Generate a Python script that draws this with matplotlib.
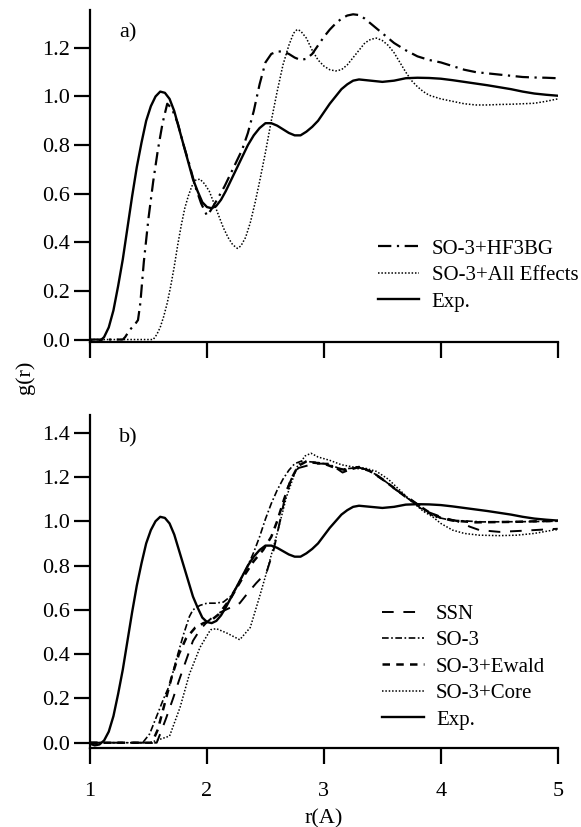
import matplotlib
matplotlib.use("Agg")
import matplotlib.pyplot as plt

plt.rcParams['font.family'] = ['Liberation Serif', 'DejaVu Serif']

# ---- data ----
exp_r = [1.0, 1.04, 1.08, 1.12, 1.16, 1.2, 1.24, 1.28, 1.32, 1.36, 1.40, 1.44, 1.48, 1.52, 1.56, 1.60,
         1.64, 1.68, 1.72, 1.76, 1.80, 1.84, 1.88, 1.92, 1.96, 2.0, 2.04, 2.08, 2.12, 2.16, 2.2, 2.25,
         2.3, 2.35, 2.4, 2.45, 2.5, 2.55, 2.6, 2.65, 2.7, 2.75, 2.8, 2.85, 2.9, 2.95, 3.0, 3.05, 3.1,
         3.15, 3.2, 3.25, 3.3, 3.4, 3.5, 3.6, 3.7, 3.8, 3.9, 4.0, 4.1, 4.2, 4.3, 4.4, 4.5, 4.6, 4.7,
         4.8, 4.9, 5.0]
exp_g = [-0.005, -0.012, -0.008, 0.01, 0.05, 0.12, 0.22, 0.33, 0.46, 0.59, 0.71, 0.81, 0.90, 0.96, 1.0,
         1.02, 1.015, 0.99, 0.94, 0.87, 0.80, 0.73, 0.66, 0.61, 0.565, 0.545, 0.54, 0.55, 0.575, 0.61,
         0.65, 0.70, 0.75, 0.80, 0.84, 0.87, 0.89, 0.89, 0.88, 0.865, 0.85, 0.84, 0.84, 0.855, 0.875,
         0.90, 0.935, 0.97, 1.0, 1.03, 1.05, 1.065, 1.07, 1.065, 1.06, 1.065, 1.075, 1.077, 1.076,
         1.073, 1.067, 1.06, 1.053, 1.046, 1.038, 1.03, 1.02, 1.012, 1.007, 1.003]

hf3bg_r = [1.0, 1.28, 1.30, 1.34, 1.38, 1.41, 1.43, 1.46, 1.50, 1.54, 1.58, 1.62, 1.66, 1.70, 1.75,
           1.80, 1.85, 1.90, 1.95, 2.0, 2.03, 2.08, 2.15, 2.2, 2.25, 2.3, 2.35, 2.4, 2.45, 2.5, 2.55,
           2.6, 2.65, 2.7, 2.75, 2.8, 2.85, 2.9, 2.95, 3.0, 3.05, 3.1, 3.15, 3.2, 3.25, 3.3, 3.35, 3.4,
           3.45, 3.5, 3.55, 3.6, 3.7, 3.8, 3.9, 4.0, 4.1, 4.2, 4.3, 4.4, 4.5, 4.6, 4.7, 4.8, 4.9, 5.0]
hf3bg_g = [0.0, 0.0, 0.01, 0.04, 0.06, 0.08, 0.15, 0.32, 0.50, 0.65, 0.78, 0.89, 0.97, 0.95, 0.89,
           0.80, 0.72, 0.63, 0.56, 0.51, 0.53, 0.57, 0.63, 0.68, 0.73, 0.78, 0.85, 0.94, 1.05, 1.14,
           1.175, 1.185, 1.185, 1.175, 1.16, 1.15, 1.155, 1.175, 1.21, 1.245, 1.275, 1.30, 1.32, 1.333,
           1.338, 1.335, 1.32, 1.30, 1.28, 1.26, 1.24, 1.22, 1.19, 1.165, 1.15, 1.14, 1.125, 1.11, 1.10,
           1.095, 1.09, 1.085, 1.08, 1.078, 1.077, 1.075]

alleff_r = [1.0, 1.54, 1.57, 1.60, 1.63, 1.66, 1.69, 1.72, 1.75, 1.78, 1.81, 1.84, 1.87, 1.90, 1.94,
            1.98, 2.02, 2.06, 2.10, 2.14, 2.18, 2.22, 2.26, 2.29, 2.33, 2.37, 2.41, 2.45, 2.5, 2.55,
            2.6, 2.65, 2.7, 2.74, 2.77, 2.8, 2.85, 2.9, 2.95, 3.0, 3.05, 3.1, 3.15, 3.2, 3.25, 3.3,
            3.35, 3.4, 3.45, 3.5, 3.55, 3.6, 3.65, 3.7, 3.75, 3.8, 3.85, 3.9, 4.0, 4.1, 4.2, 4.3, 4.4,
            4.5, 4.6, 4.7, 4.8, 4.9, 5.0]
alleff_g = [0.0, 0.0, 0.02, 0.05, 0.095, 0.15, 0.22, 0.30, 0.39, 0.47, 0.54, 0.59, 0.63, 0.655, 0.66,
            0.64, 0.61, 0.56, 0.51, 0.46, 0.42, 0.39, 0.375, 0.385, 0.42, 0.48, 0.56, 0.65, 0.77, 0.90,
            1.02, 1.13, 1.21, 1.26, 1.275, 1.27, 1.24, 1.19, 1.15, 1.125, 1.11, 1.105, 1.11, 1.13, 1.16,
            1.19, 1.22, 1.235, 1.24, 1.23, 1.21, 1.18, 1.14, 1.10, 1.065, 1.04, 1.02, 1.005, 0.99, 0.98,
            0.97, 0.965, 0.965, 0.967, 0.968, 0.97, 0.972, 0.98, 0.99]

ssn_r = [1.0, 1.57, 1.6, 1.65, 1.71, 1.76, 1.80, 1.84, 1.88, 1.94, 2.0, 2.08, 2.2, 2.28, 2.34, 2.42,
         2.51, 2.57, 2.62, 2.68, 2.73, 2.78, 2.85, 2.91, 3.0, 3.05, 3.16, 3.28, 3.39, 3.51, 3.62, 3.74,
         3.82, 3.9, 4.0, 4.14, 4.25, 4.33, 4.5, 4.7, 4.93, 5.0]
ssn_g = [0.0, 0.0, 0.04, 0.11, 0.2, 0.28, 0.34, 0.40, 0.46, 0.51, 0.545, 0.58, 0.61, 0.63, 0.67, 0.72,
         0.77, 0.87, 0.99, 1.14, 1.2, 1.24, 1.25, 1.26, 1.26, 1.26, 1.22, 1.245, 1.23, 1.185, 1.14, 1.10,
         1.07, 1.04, 1.02, 1.0, 0.975, 0.96, 0.952, 0.957, 0.964, 0.966]

so3_r = [1.0, 1.45, 1.51, 1.57, 1.63, 1.68, 1.74, 1.80, 1.85, 1.88, 1.94, 2.0, 2.07, 2.14, 2.2, 2.25,
         2.3, 2.35, 2.4, 2.45, 2.5, 2.55, 2.6, 2.65, 2.7, 2.75, 2.8, 2.85, 2.95, 3.05, 3.15, 3.25, 3.35,
         3.45, 3.55, 3.65, 3.75, 3.85, 3.95, 4.08, 4.36, 4.7, 5.0]
so3_g = [0.0, 0.0, 0.04, 0.12, 0.2, 0.26, 0.38, 0.49, 0.57, 0.60, 0.62, 0.63, 0.63, 0.635, 0.66, 0.70,
         0.75, 0.80, 0.86, 0.93, 1.01, 1.08, 1.14, 1.19, 1.23, 1.26, 1.27, 1.27, 1.265, 1.255, 1.235,
         1.24, 1.235, 1.21, 1.17, 1.13, 1.09, 1.05, 1.02, 1.005, 0.997, 0.998, 1.0]

ewald_r = [1.0, 1.53, 1.58, 1.64, 1.70, 1.76, 1.82, 1.9, 1.97, 2.03, 2.1, 2.2, 2.3, 2.4, 2.48, 2.55,
           2.6, 2.66, 2.72, 2.78, 2.85, 2.9, 3.0, 3.1, 3.2, 3.3, 3.4, 3.5, 3.6, 3.7, 3.8, 3.9, 4.0, 4.1,
           4.3, 4.6, 5.0]
ewald_g = [0.0, 0.0, 0.06, 0.18, 0.30, 0.40, 0.47, 0.52, 0.54, 0.55, 0.58, 0.65, 0.74, 0.82, 0.87,
           0.93, 1.0, 1.1, 1.19, 1.25, 1.27, 1.265, 1.26, 1.24, 1.23, 1.245, 1.225, 1.19, 1.15, 1.11,
           1.075, 1.04, 1.015, 1.003, 0.995, 0.997, 1.002]

core_r = [1.0, 1.51, 1.68, 1.77, 1.85, 1.94, 2.03, 2.08, 2.17, 2.28, 2.37, 2.45, 2.51, 2.6, 2.68,
          2.77, 2.84, 2.89, 2.95, 3.05, 3.15, 3.25, 3.35, 3.45, 3.55, 3.65, 3.75, 3.85, 3.93, 4.0, 4.1,
          4.2, 4.33, 4.5, 4.65, 4.8, 4.96, 5.0]
core_g = [0.0, 0.0, 0.03, 0.16, 0.31, 0.43, 0.51, 0.515, 0.495, 0.465, 0.52, 0.66, 0.77, 0.945, 1.11,
          1.245, 1.295, 1.307, 1.29, 1.275, 1.255, 1.245, 1.24, 1.225, 1.19, 1.14, 1.09, 1.045, 1.02,
          0.99, 0.96, 0.945, 0.937, 0.935, 0.937, 0.945, 0.96, 0.962]

xticks = [1, 2, 3, 4, 5]
yticks_a = [0.0, 0.2, 0.4, 0.6, 0.8, 1.0, 1.2]
yticks_b = [0.0, 0.2, 0.4, 0.6, 0.8, 1.0, 1.2, 1.4]

# ---- figure ----
fig = plt.figure(figsize=(5.81, 8.27), dpi=100)
L, R = 0.155, 0.960
axa = fig.add_axes([L, 0.5865, R - L, 0.988 - 0.5865])
axb = fig.add_axes([L, 0.0955, R - L, 0.498 - 0.0955])

FS = 16
LFS = 15


def style(ax, yt, ylim, labels_x):
    ax.set_xlim(1, 5)
    ax.set_ylim(*ylim)
    ax.set_xticks(xticks)
    ax.set_yticks(yt)
    ax.set_yticklabels([f"{v:.1f}" for v in yt])
    if labels_x:
        ax.set_xticklabels([str(v) for v in xticks])
    else:
        ax.set_xticklabels([])
    for s in ['top', 'right']:
        ax.spines[s].set_visible(False)
    for s in ['left', 'bottom']:
        ax.spines[s].set_linewidth(1.6)
    ax.tick_params(direction='out', length=11.5, width=1.6, labelsize=FS, pad=3)
    ax.tick_params(axis='x', pad=13)


exp_kw = dict(color='black', lw=1.7, linestyle='-')
leg_kw = dict(loc='upper left', frameon=False, fontsize=LFS, handlelength=2.0,
              handletextpad=0.6, labelspacing=0.33, borderpad=0, borderaxespad=0)

axa.plot(hf3bg_r, hf3bg_g, color='black', lw=1.6, linestyle=(0, (6, 2.5, 1, 2.5)), label='SO-3+HF3BG')
axa.plot(alleff_r, alleff_g, color='black', lw=1.1, linestyle=(0, (1, 1.2)), label='SO-3+All Effects')
axa.plot(exp_r, exp_g, label='Exp.', **exp_kw)
style(axa, yticks_a, (-0.01, 1.356), False)
axa.text(1.25, 1.262, 'a)', fontsize=FS, va='center', ha='left')
axa.legend(bbox_to_anchor=(0.615, 0.31), **leg_kw)

axb.plot(ssn_r, ssn_g, color='black', lw=1.4, linestyle=(0, (6, 5)), label='SSN')
axb.plot(so3_r, so3_g, color='black', lw=1.2, linestyle=(0, (4, 1.5, 1, 1.5)), label='SO-3')
axb.plot(ewald_r, ewald_g, color='black', lw=1.8, linestyle=(0, (3, 2.5)), label='SO-3+Ewald')
axb.plot(core_r, core_g, color='black', lw=1.1, linestyle=(0, (1, 1.2)), label='SO-3+Core')
axb.plot(exp_r, exp_g, label='Exp.', **exp_kw)
style(axb, yticks_b, (-0.024, 1.479), True)
axb.text(1.25, 1.375, 'b)', fontsize=FS, va='center', ha='left')
axb.legend(bbox_to_anchor=(0.624, 0.432), **leg_kw)
axb.set_xlabel('r(A)', fontsize=FS, labelpad=6)

fig.text(0.043, 0.544, 'g(r)', rotation=90, fontsize=FS, ha='center', va='center')

fig.savefig('out.png', dpi=100)
